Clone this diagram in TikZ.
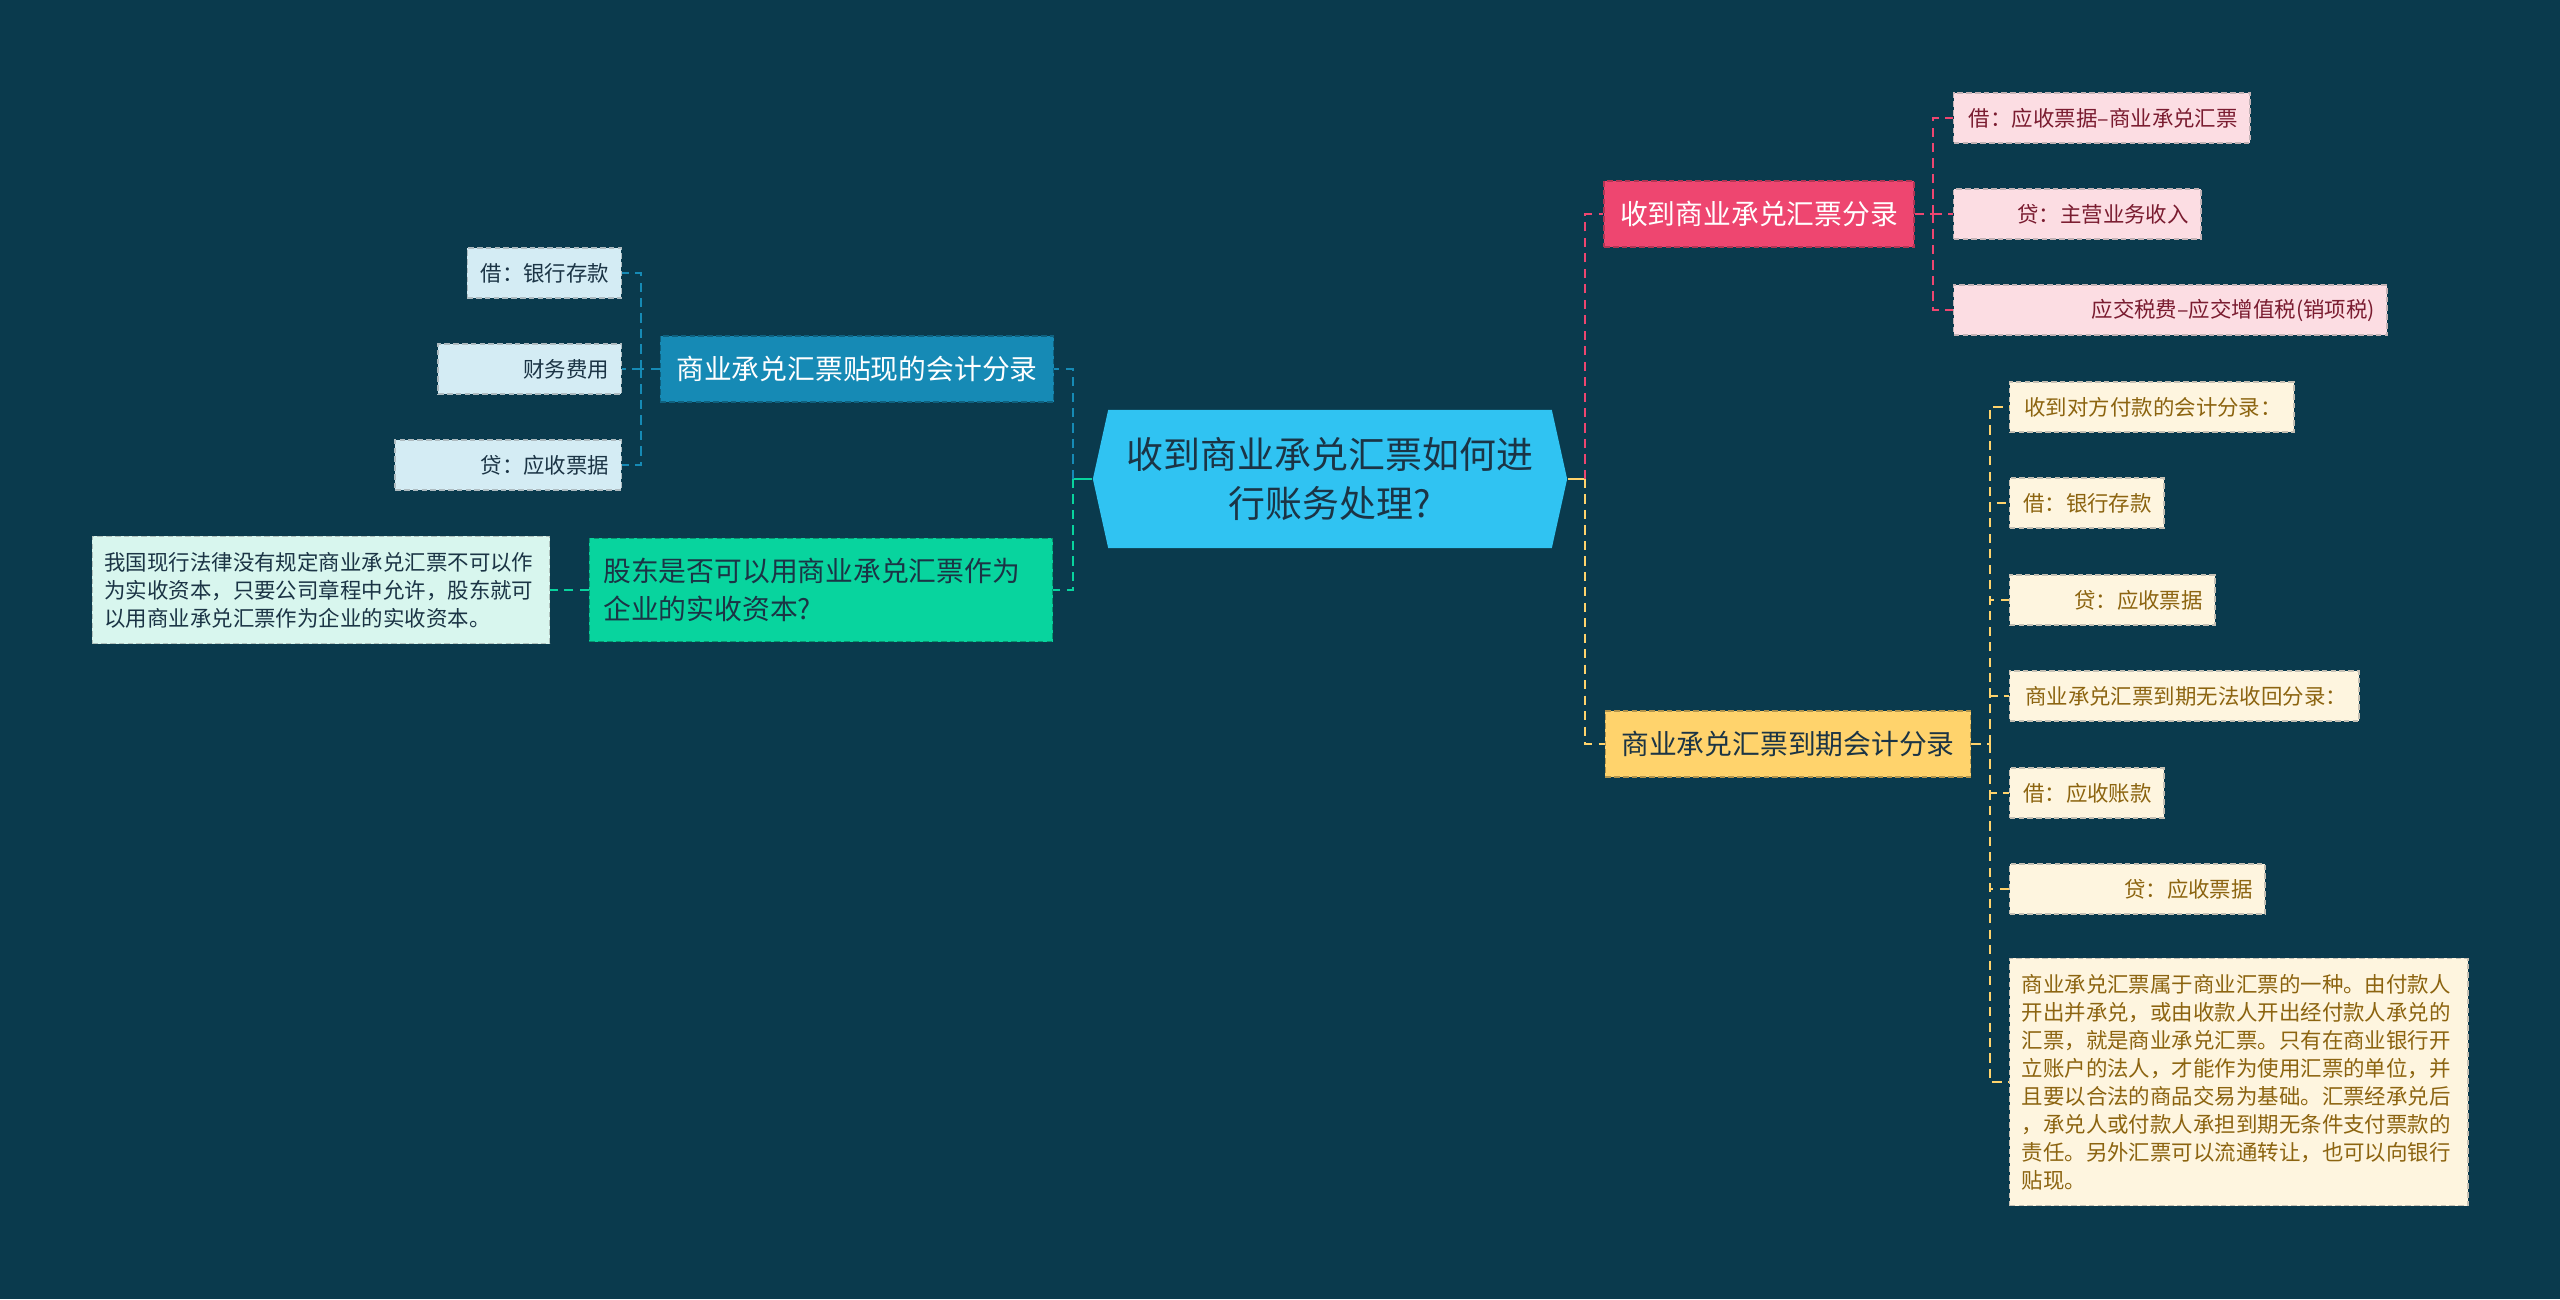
\documentclass[tikz,border=0pt]{standalone}
\usepackage{fontspec}
\setmainfont{Noto Sans CJK SC}
\usepackage{xcolor}
\usetikzlibrary{shapes.symbols}

\definecolor{bgc}{HTML}{0A3A4D}
\definecolor{rootc}{HTML}{30C3F2}
\definecolor{inkc}{HTML}{1B3445}
\definecolor{pinkc}{HTML}{EE4670}
\definecolor{pinkl}{HTML}{FCDDE3}
\definecolor{pinkt}{HTML}{7A1C30}
\definecolor{ylwc}{HTML}{FFD36C}
\definecolor{ylwl}{HTML}{FEF5DF}
\definecolor{ylwt}{HTML}{8C6410}
\definecolor{bluec}{HTML}{168AB5}
\definecolor{bluel}{HTML}{D4ECF4}
\definecolor{grnc}{HTML}{08D49E}
\definecolor{grnl}{HTML}{D8F6EE}

\newcommand\rootfont{\fontsize{10.5}{13.9}\selectfont}
\newcommand\topfont{\fontsize{7.9}{10.7}\selectfont}
\newcommand\kidfont{\fontsize{6.1}{7.95}\selectfont}

\begin{document}
\begin{tikzpicture}[x=0.01cm, y=-0.01cm,
  box/.style={rectangle, draw, dash pattern=on 1.6pt off 0.9pt, line width=0.4pt},
  top/.style={box, font=\topfont, inner xsep=0.16cm, minimum height=0.66cm},
  kid/.style={box, font=\kidfont, inner xsep=0.12cm, minimum height=0.5cm, align=right},
  pinkkid/.style={kid, fill=pinkl, draw=pinkl!55!gray, text=pinkt, anchor=west},
  ylwkid/.style={kid, fill=ylwl, draw=ylwl!55!gray, text=ylwt, anchor=west},
  bluekid/.style={kid, fill=bluel, draw=bluel!55!gray, text=inkc, anchor=east},
  link/.style={dash pattern=on 2.6pt off 1.8pt, line width=0.6pt}]
\useasboundingbox (0,0) rectangle (2560,1299);
\fill[bgc] (0,0) rectangle (2560,1299);

% centre
\node[signal, signal to=east and west, signal pointer angle=155, fill=rootc,
  minimum width=4.74cm, minimum height=1.38cm, inner sep=0pt, font=\rootfont,
  text=inkc, align=center] (root) at (1330,479) {收到商业承兑汇票如何进\\行账务处理?};

% right side
\node[top, fill=pinkc, draw=pinkc!75!black, text=white] (pk) at (1759,214) {收到商业承兑汇票分录};
\node[pinkkid, text width=2.72cm] (pk1) at (1953,118) {借：应收票据–商业承兑汇票};
\node[pinkkid, text width=2.23cm] (pk2) at (1953,214) {贷：主营业务收入};
\node[pinkkid, text width=4.09cm] (pk3) at (1953,310) {应交税费–应交增值税(销项税)};

\node[top, fill=ylwc, draw=ylwc!70!black, text=inkc] (yl) at (1788,744) {商业承兑汇票到期会计分录};
\node[ylwkid, text width=2.60cm] (yl1) at (2009,407) {收到对方付款的会计分录：};
\node[ylwkid, text width=1.30cm] (yl2) at (2009,503) {借：银行存款};
\node[ylwkid, text width=1.81cm] (yl3) at (2009,600) {贷：应收票据};
\node[ylwkid, text width=3.25cm] (yl4) at (2009,696) {商业承兑汇票到期无法收回分录：};
\node[ylwkid, text width=1.30cm] (yl5) at (2009,793) {借：应收账款};
\node[ylwkid, text width=2.31cm] (yl6) at (2009,889) {贷：应收票据};
\node[ylwkid, text width=4.34cm, align=left, minimum height=2.47cm] (yl7) at (2009,1082)
  {商业承兑汇票属于商业汇票的一种。由付款人\\开出并承兑，或由收款人开出经付款人承兑的\\汇票，就是商业承兑汇票。只有在商业银行开\\立账户的法人，才能作为使用汇票的单位，并\\且要以合法的商品交易为基础。汇票经承兑后\\，承兑人或付款人承担到期无条件支付票款的\\责任。另外汇票可以流通转让，也可以向银行\\贴现。};

% left side
\node[top, fill=bluec, draw=bluec!70!black, text=white] (bl) at (857,369) {商业承兑汇票贴现的会计分录};
\node[bluekid, text width=1.30cm] (bl1) at (622,273) {借：银行存款};
\node[bluekid, text width=1.59cm] (bl2) at (622,369) {财务费用};
\node[bluekid, text width=2.02cm] (bl3) at (622,465) {贷：应收票据};

\node[top, fill=grnc, draw=grnc!70!black, text=inkc, inner xsep=0.14cm, text width=4.35cm,
  align=left, minimum height=1.03cm] (gr) at (821,590) {股东是否可以用商业承兑汇票作为\\企业的实收资本?};
\node[kid, fill=grnl, draw=grnl!55!gray, text=inkc, text width=4.33cm, align=left,
  minimum height=1.07cm] (gr1) at (321,590)
  {我国现行法律没有规定商业承兑汇票不可以作\\为实收资本，只要公司章程中允许，股东就可\\以用商业承兑汇票作为企业的实收资本。};

% connectors
\coordinate (rj) at (1585,479);
\coordinate (pj) at (1933,214);
\coordinate (yj) at (1990,744);
\coordinate (lj) at (1073,479);
\coordinate (bj) at (641,369);

\draw[ylwc, line width=0.6pt] (root.east) -- (rj);
\draw[pinkc, link] (rj) |- (pk.west);
\draw[ylwc, link] (rj) |- (yl.west);
\draw[pinkc, link] (pk.east) -- (pj);
\foreach \k in {pk1,pk2,pk3}
  \draw[pinkc, link] (pj) |- (\k.west);
\draw[ylwc, link] (yl.east) -- (yj);
\foreach \k in {yl1,yl2,yl3,yl4,yl5,yl6,yl7}
  \draw[ylwc, link] (yj) |- (\k.west);

\draw[grnc, line width=0.6pt] (root.west) -- (lj);
\draw[bluec, link] (lj) |- (bl.east);
\draw[grnc, link] (lj) |- (gr.east);
\draw[bluec, link] (bl.west) -- (bj);
\foreach \k in {bl1,bl2,bl3}
  \draw[bluec, link] (bj) |- (\k.east);
\draw[grnc, link] (gr.west) -- (gr1.east);
\end{tikzpicture}
\end{document}
